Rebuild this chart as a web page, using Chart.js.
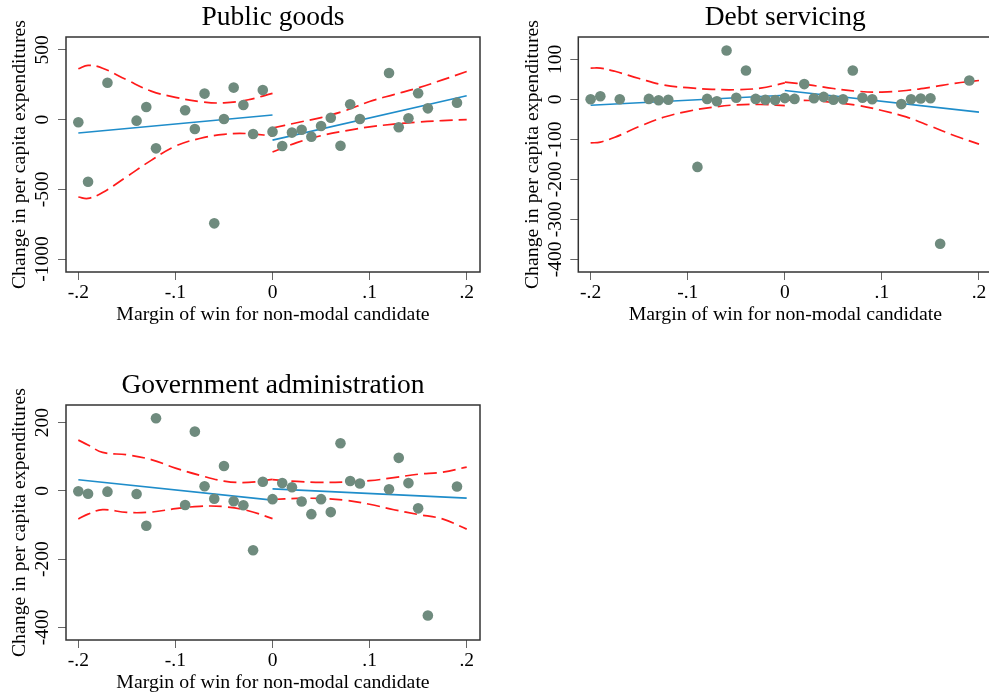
<!DOCTYPE html>
<html>
<head>
<meta charset="utf-8">
<script src="https://cdn.jsdelivr.net/npm/chart.js@4.4.0/dist/chart.umd.min.js"></script>
<style>
  html, body { margin: 0; padding: 0; background: #fff; overflow: hidden; width: 989px; height: 695px; }
  .panel { position: absolute; }
</style>
</head>
<body>
<canvas class="panel" id="pubGoods" width="494" height="327" style="left:0;top:0"></canvas>
<canvas class="panel" id="debtServ" width="510" height="327" style="left:495px;top:0"></canvas>
<canvas class="panel" id="govAdmin" width="494" height="327" style="left:0;top:368px"></canvas>
<script>
// Margin of win for the non-modal candidate (shared by all panels)
const marginX = [-0.2, -0.19, -0.17, -0.14, -0.13, -0.12, -0.09, -0.08, -0.07, -0.06, -0.05,
                 -0.04, -0.03, -0.02, -0.01, 0, 0.01, 0.02, 0.03, 0.04, 0.05, 0.06, 0.07,
                 0.08, 0.09, 0.12, 0.13, 0.14, 0.15, 0.16, 0.19];

// Change in per capita expenditures, binned means
const publicGoods   = [-19, -445, 265, -7, 91, -206, 67, -67, 187, -744, 5, 230, 105, -103, 213,
                       -86, -189, -93, -72, -122, -45, 14, -187, 110, 5, 335, -55, 10, 189, 81, 122];
const debtServicing = [0, 7.5, 0, 1, -2.5, -1, -169, 1, -5, 122, 4, 72, 1, -1, -2,
                       3, 1, 38, 2.5, 6, -1, 0, 72, 4, 0, -12, 0, 2, 2.5, -361, 47];
const govAdmin      = [-1, -8, -2, -9, -102, 213, -41, 174, 14, -23, 73, -30, -42, -174, 27,
                       -24, 23, 11, -31, -68, -24, -62, 140, 29, 22, 5, 97, 23, -51, -365, 13];

// Linear fits on each side of the cutoff
const fitXLeft  = [-0.2, 0];
const fitXRight = [0, 0.2];
const publicGoodsFitLeft  = [-96, 33];
const publicGoodsFitRight = [-147, 172];
const debtFitLeft  = [-15, 10];
const debtFitRight = [22, -32];
const govFitLeft   = [33, -27];
const govFitRight  = [6, -21];

// Confidence bands, evaluated on a grid on each side
const ciXLeft  = [-0.2, -0.19, -0.175, -0.15, -0.125, -0.1, -0.075, -0.05, -0.025, 0];
const ciXRight = [0, 0.025, 0.05, 0.075, 0.1, 0.125, 0.15, 0.175, 0.2];

const publicGoodsCiLeftHi  = [365, 390, 369, 285, 205, 160, 130, 120, 143, 189];
const publicGoodsCiLeftLo  = [-555, -565, -523, -409, -292, -190, -135, -105, -100, -118];
const publicGoodsCiRightHi = [-60, -22, 15, 65, 130, 180, 228, 285, 345];
const publicGoodsCiRightLo = [-232, -165, -115, -80, -52, -32, -17, -7, 0];

const debtCiLeftHi  = [78, 78, 70, 52, 36, 29, 25, 24, 28, 41];
const debtCiLeftLo  = [-109, -107, -95, -68, -45, -30, -20, -14, -13, -16];
const debtCiRightHi = [43, 36, 27, 20, 18, 22, 30, 40, 47];
const debtCiRightLo = [-2, -3, -8, -15, -28, -44, -67, -91, -112];

const govCiLeftHi  = [149, 135, 113, 106, 92, 67, 46, 29, 25, 34];
const govCiLeftLo  = [-82, -68, -55, -63, -62, -52, -45, -46, -58, -81];
const govCiRightHi = [33, 28, 25, 26, 30, 39, 49, 55, 70];
const govCiRightLo = [-25, -22, -22, -27, -39, -55, -69, -82, -112];

// Axis ticks
const xTickValues = [-0.2, -0.1, 0, 0.1, 0.2];
const xTickLabels = ['-.2', '-.1', '0', '.1', '.2'];
const publicGoodsTicks = [-1000, -500, 0, 500];
const debtTicks = [-400, -300, -200, -100, 0, 100];
const govTicks  = [-400, -200, 0, 200];

const FONT = "'Liberation Serif', 'Times New Roman', serif";
const MARKER = '#6f8b7e';
const BLUE = '#1f8dca';
const RED = '#ff1a1a';
const DASH = [13, 6];

// Box around the plot region
const plotFrame = {
  id: 'plotFrame',
  afterDatasetsDraw(chart) {
    const { ctx, chartArea: a } = chart;
    ctx.save();
    ctx.strokeStyle = '#333';
    ctx.lineWidth = 1.5;
    ctx.strokeRect(a.left, a.top, a.right - a.left, a.bottom - a.top);
    ctx.restore();
  }
};

function xy(xs, ys) {
  return xs.map((x, i) => ({ x, y: ys[i] }));
}

function curve(data, color, dash, width, tension) {
  return {
    data, showLine: true, borderColor: color, borderWidth: width, borderDash: dash,
    pointRadius: 0, tension, fill: false
  };
}

function makePanel(id, p) {
  new Chart(document.getElementById(id), {
    type: 'scatter',
    data: {
      datasets: [
        { data: xy(marginX, p.values), pointRadius: 5.3, pointBackgroundColor: MARKER,
          pointBorderColor: MARKER, pointBorderWidth: 0 },
        curve(xy(fitXLeft, p.fitLeft), BLUE, [], 1.6, 0),
        curve(xy(fitXRight, p.fitRight), BLUE, [], 1.6, 0),
        curve(xy(ciXLeft, p.ciLeftHi), RED, DASH, 1.7, 0.4),
        curve(xy(ciXLeft, p.ciLeftLo), RED, DASH, 1.7, 0.4),
        curve(xy(ciXRight, p.ciRightHi), RED, DASH, 1.7, 0.4),
        curve(xy(ciXRight, p.ciRightLo), RED, DASH, 1.7, 0.4)
      ]
    },
    options: {
      responsive: false,
      animation: false,
      events: [],
      layout: { autoPadding: false, padding: { left: 0, right: p.padRight, top: 0, bottom: 0 } },
      plugins: {
        legend: { display: false },
        tooltip: { enabled: false },
        title: {
          display: true, text: p.title, color: '#000', fullSize: false,
          font: { family: FONT, size: 27.5, weight: 'normal' },
          padding: { top: 1.5, bottom: 2.5 }
        }
      },
      scales: {
        x: {
          type: 'linear', min: -0.2127, max: 0.2137,
          afterBuildTicks: s => { s.ticks = xTickValues.map(v => ({ value: v })); },
          afterFit: s => { s.height = 55; },
          ticks: {
            callback: (v, i) => xTickLabels[i], color: '#000', autoSkip: false,
            maxRotation: 0, padding: 1.6, font: { family: FONT, size: 19.5 }
          },
          grid: { drawOnChartArea: false, drawTicks: true, tickLength: 8, color: '#666' },
          border: { display: false },
          title: {
            display: true, text: 'Margin of win for non-modal candidate', color: '#000',
            font: { family: FONT, size: 19.8 }, padding: { top: 0, bottom: p.xTitlePad }
          }
        },
        y: {
          type: 'linear', min: p.yMin, max: p.yMax,
          afterBuildTicks: s => { s.ticks = p.yTicks.map(v => ({ value: v })); },
          afterFit: s => { s.width = p.yAxisWidth; },
          ticks: {
            callback: v => String(v), color: '#000', autoSkip: false,
            minRotation: 90, maxRotation: 90, crossAlign: 'center', padding: p.yTickPad,
            font: { family: FONT, size: 19.5 }
          },
          grid: { drawOnChartArea: false, drawTicks: true, tickLength: 8, color: '#666' },
          border: { display: false },
          title: {
            display: true, text: 'Change in per capita expenditures', color: '#000',
            font: { family: FONT, size: 19.8 }, padding: { top: p.yTitlePad, bottom: 0 }
          }
        }
      }
    },
    plugins: [plotFrame]
  });
}

makePanel('pubGoods', {
  title: 'Public goods', values: publicGoods,
  fitLeft: publicGoodsFitLeft, fitRight: publicGoodsFitRight,
  ciLeftHi: publicGoodsCiLeftHi, ciLeftLo: publicGoodsCiLeftLo,
  ciRightHi: publicGoodsCiRightHi, ciRightLo: publicGoodsCiRightLo,
  yTicks: publicGoodsTicks, yMin: -1093, yMax: 593,
  yAxisWidth: 66, yTickPad: -7.4, yTitlePad: 8.1, xTitlePad: 0.3, padRight: 14
});

makePanel('debtServ', {
  title: 'Debt servicing', values: debtServicing,
  fitLeft: debtFitLeft, fitRight: debtFitRight,
  ciLeftHi: debtCiLeftHi, ciLeftLo: debtCiLeftLo,
  ciRightHi: debtCiRightHi, ciRightLo: debtCiRightLo,
  yTicks: debtTicks, yMin: -431.75, yMax: 155.75,
  yAxisWidth: 83.3, yTickPad: -3.3, yTitlePad: 26.2, xTitlePad: 0.3, padRight: 12.7
});

makePanel('govAdmin', {
  title: 'Government administration', values: govAdmin,
  fitLeft: govFitLeft, fitRight: govFitRight,
  ciLeftHi: govCiLeftHi, ciLeftLo: govCiLeftLo,
  ciRightHi: govCiRightHi, ciRightLo: govCiRightLo,
  yTicks: govTicks, yMin: -437, yMax: 252,
  yAxisWidth: 66, yTickPad: -2.6, yTitlePad: 8.1, xTitlePad: 0.6, padRight: 14
});
</script>
</body>
</html>
